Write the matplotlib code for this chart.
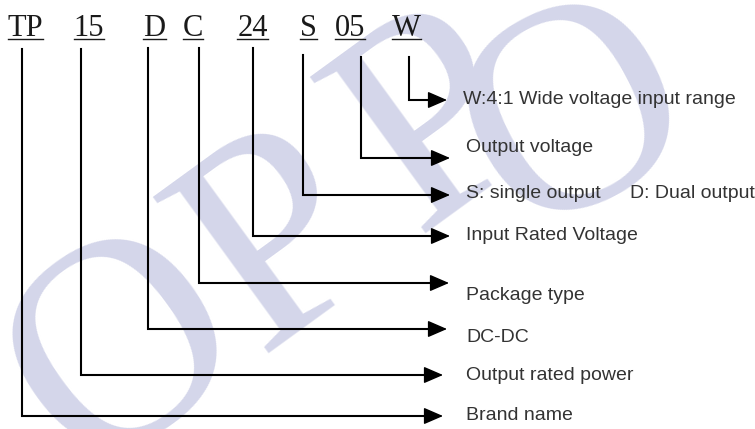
import numpy as np
import matplotlib
matplotlib.use("Agg")
import matplotlib.pyplot as plt
from matplotlib.patches import ArrowStyle

# model code parts and what each one means (left to right)
codes = ["TP", "15", "D", "C", "24", "S", "05", "W"]
meanings = ["Brand name", "Output rated power", "DC-DC", "Package type",
            "Input Rated Voltage", "S: single output", "Output voltage",
            "W:4:1 Wide voltage input range"]
extra_note = "D: Dual output"
watermark = "OPPO"

# layout, in pixels of the 755 x 429 picture (y grows downward)
code_x = [25.5, 89, 154.5, 193, 252.5, 308.5, 350, 406.5]
stem_x = [22, 81, 148, 199, 253, 303, 361, 409]
stem_top = [49, 49, 48, 48, 48, 55, 57, 57]
level_y = [416, 375, 329, 283, 236, 195, 158, 100]
tip_x = [443, 443, 447, 449, 450, 450, 450, 447]
label_x = [466, 466, 466, 466, 466, 466, 466, 463]
label_y = [415, 376, 338, 295, 235, 193, 147, 100]
note_x = 630

# watermark letters: centre of each glyph and its tilt
wm_cx = [110, 266, 423, 566]
wm_cy = [332, 223, 103, 98]
wm_rot = [36, 36, 36, 28]
wm_size = 214

W, H = 755, 429
fig = plt.figure(figsize=(W / 100, H / 100), dpi=100)
ax = fig.add_axes([0, 0, 1, 1])
ax.set_xlim(0, W)
ax.set_ylim(H, 0)
ax.axis("off")

# glyph centre sits about a third of an em above the baseline
em = wm_size * 100 / 72
for ch, cx, cy, rot in zip(watermark, wm_cx, wm_cy, wm_rot):
    a = np.radians(rot)
    lift = 0.34 * em
    ax.text(cx + lift * np.sin(a), cy + lift * np.cos(a), ch, fontsize=wm_size,
            family="Liberation Serif", color="#D4D6EA", rotation=rot,
            rotation_mode="anchor", ha="center", va="baseline", zorder=0)

code_texts = []
for c, x in zip(codes, code_x):
    t = ax.text(x, 36, c, fontsize=22, family="Liberation Serif",
                color="#1a1a1a", ha="center", va="baseline")
    code_texts.append(t)

label_font = dict(fontsize=14, family="Liberation Sans",
                  color="#333333", ha="left", va="center")

head = ArrowStyle("-|>", head_length=12, head_width=5.2)
for i in range(len(codes)):
    ax.plot([stem_x[i], stem_x[i], tip_x[i] - 12], [stem_top[i], level_y[i], level_y[i]],
            color="black", lw=1.5, solid_joinstyle="miter", zorder=2)
    ax.annotate("", xy=(tip_x[i], level_y[i]), xytext=(tip_x[i] - 16, level_y[i]),
                arrowprops=dict(arrowstyle=head, color="black", lw=1.0,
                                mutation_scale=1, shrinkA=0, shrinkB=0))
    ax.text(label_x[i], label_y[i], meanings[i], **label_font)

ax.text(note_x, label_y[5], extra_note, **label_font)

# underline each code part with the width of its text
fig.canvas.draw()
inv = ax.transData.inverted()
for t in code_texts:
    bb = t.get_window_extent()
    (x0, _), (x1, _) = inv.transform([(bb.x0, bb.y0), (bb.x1, bb.y0)])
    ax.plot([x0, x1], [39, 39], color="#1a1a1a", lw=1.0)

fig.savefig("out.png", dpi=100)
